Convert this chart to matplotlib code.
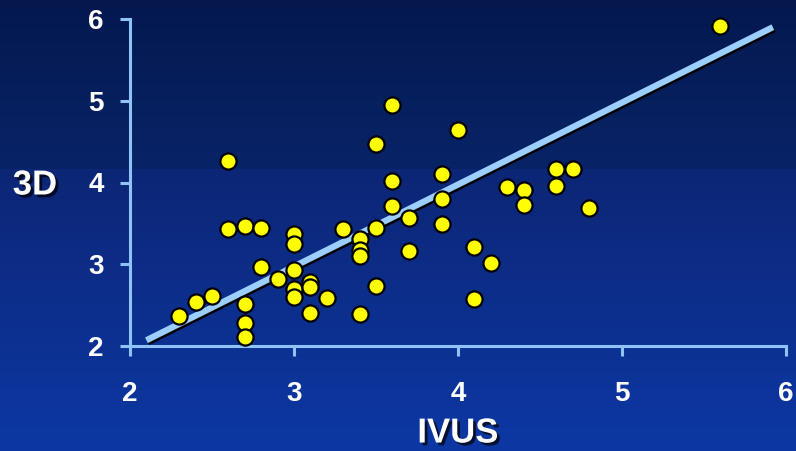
import numpy as np
import matplotlib.pyplot as plt
import matplotlib.patheffects as pe

# IVUS vs 3D measurements
ivus = [2.3, 2.4, 2.5, 2.6, 2.6, 2.7, 2.8, 2.7, 2.7, 2.7, 2.8, 2.9,
        3.0, 3.0, 3.0, 3.0, 3.0, 3.1, 3.1, 3.1, 3.2, 3.3, 3.4, 3.4,
        3.4, 3.4, 3.5, 3.5, 3.5, 3.6, 3.6, 3.6, 3.7, 3.7, 3.9, 3.9,
        3.9, 4.0, 4.1, 4.1, 4.2, 4.3, 4.4, 4.4, 4.6, 4.6, 4.7, 4.8, 5.6]
d3 = [2.37, 2.54, 2.61, 4.26, 3.43, 3.47, 3.44, 2.51, 2.28, 2.11, 2.97, 2.82,
      3.37, 3.25, 2.93, 2.70, 2.60, 2.78, 2.72, 2.40, 2.59, 3.43, 3.31, 3.18,
      3.10, 2.39, 4.47, 3.44, 2.74, 4.95, 4.02, 3.71, 3.56, 3.16, 4.10, 3.80,
      3.49, 4.64, 3.21, 2.58, 3.02, 3.94, 3.91, 3.72, 4.16, 3.96, 4.16, 3.69, 5.91]

fit_x = [2.1, 5.92]
fit_y = [2.07, 5.90]

xticks = [2, 3, 4, 5, 6]
yticks = [2, 3, 4, 5, 6]

axis_col = '#8fc3f5'
plt.rcParams['font.family'] = ['Liberation Sans', 'DejaVu Sans']

fig = plt.figure(figsize=(7.96, 4.51), dpi=100)

# background gradient (two bands like the slide template)
bg = fig.add_axes([0, 0, 1, 1], zorder=-10)
h = 451
top = np.array([4, 24, 78]) / 255
mid1 = np.array([8, 36, 104]) / 255
mid2 = np.array([12, 38, 118]) / 255
bot = np.array([12, 56, 164]) / 255
rows = np.zeros((h, 1, 3))
cut = 169
for i in range(h):
    if i < cut:
        t = i / cut
        rows[i, 0] = top * (1 - t) + mid1 * t
    else:
        t = (i - cut) / (h - cut)
        rows[i, 0] = mid2 * (1 - t) + bot * t
bg.imshow(rows, aspect='auto', extent=[0, 1, 0, 1])
bg.axis('off')

ax = fig.add_axes([130 / 796, 105 / 451, 656 / 796, 327 / 451])
ax.patch.set_alpha(0)
ax.set_xlim(2, 6)
ax.set_ylim(2, 6)

ax.plot(fit_x, fit_y, color='#9ccfff', lw=4.5, solid_capstyle='butt', zorder=2,
        path_effects=[pe.SimpleLineShadow(offset=(1, -1.5), shadow_color='black', alpha=1),
                      pe.Normal()])
ax.scatter(ivus, d3, s=135, color='#ffff00', edgecolor='black', linewidth=1.6,
           zorder=3, clip_on=False)

for side in ['top', 'right']:
    ax.spines[side].set_visible(False)
for side in ['left', 'bottom']:
    ax.spines[side].set_color(axis_col)
    ax.spines[side].set_linewidth(2.2)

ax.set_xticks(xticks)
ax.set_yticks(yticks)
ax.tick_params(axis='both', colors=axis_col, width=2.2, length=7, labelcolor='white')
ax.tick_params(axis='x', pad=18)
ax.tick_params(axis='y', pad=12)
for lab in ax.get_xticklabels() + ax.get_yticklabels():
    lab.set_fontsize(20)
    lab.set_fontweight('bold')

shadow = [pe.withSimplePatchShadow(offset=(2, -2), shadow_rgbFace='black', alpha=0.7)]
fig.text(458 / 796, 1 - 433 / 451, 'IVUS', color='white', fontsize=25, fontweight='bold',
         ha='center', va='center', path_effects=shadow)
fig.text(35 / 796, 1 - 185 / 451, '3D', color='white', fontsize=25, fontweight='bold',
         ha='center', va='center', path_effects=shadow)

fig.savefig('out.png', dpi=100)
